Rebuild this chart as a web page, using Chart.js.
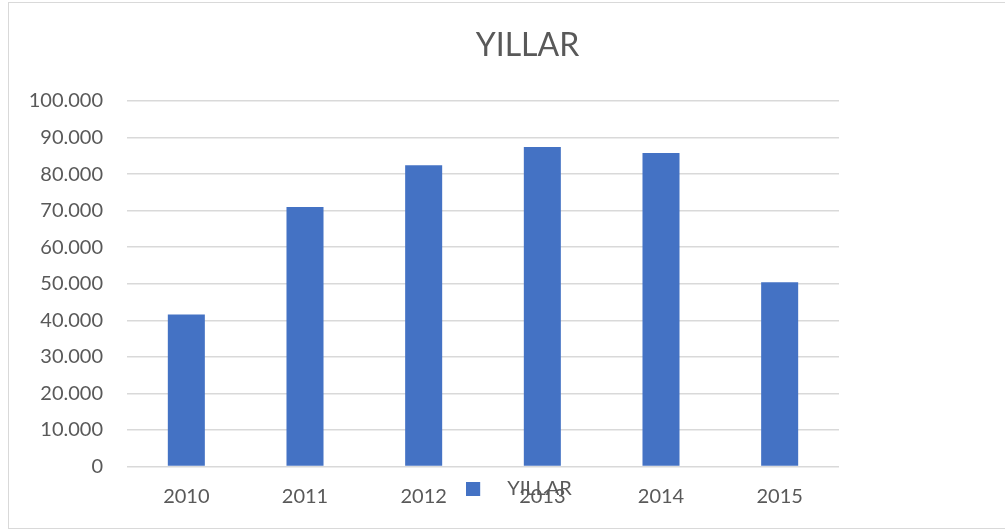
<!DOCTYPE html>
<html>
<head>
<meta charset="utf-8">
<script src="https://cdn.jsdelivr.net/npm/chart.js@4"></script>
<style>
  html, body { margin: 0; padding: 0; overflow: hidden; background: #fff; width: 1005px; height: 531px; }
  #frame { position: absolute; left: 8px; top: 2px; width: 1100px; height: 525px; border: 1px solid #D9D9D9; }
  #c { position: absolute; left: 0; top: 0; }
</style>
</head>
<body>
<div id="frame"></div>
<canvas id="c" width="1047" height="531"></canvas>
<script>
const categories = ['2010', '2011', '2012', '2013', '2014', '2015'];
const values = [41600, 71000, 82400, 87400, 85800, 50400];
const seriesName = 'YILLAR';
const chartTitle = 'YILLAR';

const barColor = '#4472C4';
const textColor = '#595959';
const gridColor = '#D9D9D9';
const fontFamily = 'Lato, "Open Sans", sans-serif';

function fmt(v) {
  return String(v).replace(/\B(?=(\d{3})+(?!\d))/g, '.');
}

// legend marker image: square at the left of a wider transparent box
const marker = document.createElement('canvas');
marker.width = 48; marker.height = 14;
const mctx = marker.getContext('2d');
mctx.fillStyle = barColor;
mctx.fillRect(0, 0, 14, 14);

new Chart(document.getElementById('c'), {
  type: 'bar',
  data: {
    labels: categories,
    datasets: [{
      label: seriesName,
      data: values,
      backgroundColor: barColor,
      borderWidth: 0,
      barPercentage: 0.312,
      categoryPercentage: 1.0,
      yAxisID: 'y'
    }]
  },
  options: {
    responsive: false,
    animation: false,
    devicePixelRatio: 1,
    layout: { padding: { left: 8, right: 0, top: 0, bottom: 22 } },
    plugins: {
      title: {
        display: true,
        text: chartTitle,
        color: textColor,
        font: { family: fontFamily, size: 32, weight: 'normal' },
        padding: { top: 26, bottom: 36.6 }
      },
      legend: {
        display: true,
        position: 'bottom',
        labels: {
          usePointStyle: true,
          pointStyle: marker,
          pointStyleWidth: 14,
          boxHeight: 14,
          color: textColor,
          font: { family: fontFamily, size: 20 },
          padding: 10
        }
      },
      tooltip: { enabled: false }
    },
    scales: {
      x: {
        grid: { display: false },
        border: { display: false },
        ticks: {
          color: textColor,
          font: { family: fontFamily, size: 20 },
          mirror: true,
          padding: -42.5,
          maxRotation: 0
        },
        afterFit: function (s) { s.height = 2.5; }
      },
      y: {
        position: 'left',
        min: 0,
        max: 100000,
        grid: { color: gridColor, lineWidth: 1.5, drawTicks: false },
        border: { display: false },
        ticks: {
          stepSize: 10000,
          color: textColor,
          font: { family: fontFamily, size: 20 },
          padding: 24,
          callback: function (v) { return fmt(v); }
        },
        afterFit: function (s) { s.width = 119; }
      },
      ySpace: {
        position: 'right',
        display: true,
        min: 0,
        max: 100000,
        grid: { display: false, drawOnChartArea: false },
        border: { display: false },
        ticks: { display: false },
        afterFit: function (s) { s.width = 208; }
      }
    }
  }
});
</script>
</body>
</html>
